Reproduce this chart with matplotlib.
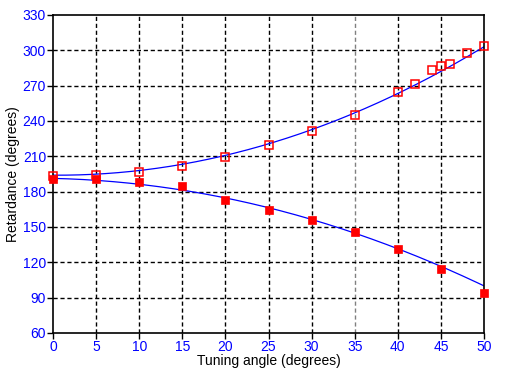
import matplotlib
matplotlib.use("Agg")
import matplotlib.pyplot as plt
import numpy as np

# Measured data
x_open = [0, 5, 10, 15, 20, 25, 30, 35, 40, 42, 44, 45, 46, 48, 50]
y_open = [193.5, 194, 197, 201.8, 209.4, 219.6, 231.5, 244.8, 264.8, 271, 283, 286.4, 288.6, 297.5, 303.4]

x_filled = [0, 5, 10, 15, 20, 25, 30, 35, 40, 45, 50]
y_filled = [191, 191, 188.5, 185, 173, 164.7, 156, 145.7, 131, 114.6, 94.2]

# Fitted curves
x_fit = [0, 5, 10, 15, 20, 25, 30, 35, 40, 45, 50]
y_fit_upper = [194, 194.9, 197.9, 203.3, 210.8, 220.6, 232.6, 246.9, 263.4, 282.1, 303]
y_fit_lower = [191.3, 189.6, 186.3, 181.3, 174.7, 166.4, 156.4, 144.8, 131.6, 116.6, 100]

x_ticks = [0, 5, 10, 15, 20, 25, 30, 35, 40, 45, 50]
y_ticks = [60, 90, 120, 150, 180, 210, 240, 270, 300, 330]

plt.rcParams['font.family'] = ['Liberation Sans', 'DejaVu Sans']

fig = plt.figure(figsize=(5.05, 3.73), dpi=100)
ax = fig.add_axes([53/505, 40/373, 431/505, 318/373])

# Grid
for xv in x_ticks[1:-1]:
    c = '0.5' if xv == 35 else 'black'
    ax.axvline(xv, color=c, linestyle=(0, (3, 2)), linewidth=1, zorder=1)
for yv in y_ticks[1:-1]:
    ax.axhline(yv, color='black', linestyle=(0, (3, 2)), linewidth=1, zorder=1)

xs = np.linspace(0, 50, 200)
cu = np.polyfit(x_fit, y_fit_upper, 2)
cl = np.polyfit(x_fit, y_fit_lower, 2)
ax.plot(xs, np.polyval(cu, xs), color='blue', linewidth=0.9, zorder=2)
ax.plot(xs, np.polyval(cl, xs), color='blue', linewidth=0.9, zorder=2)

ax.plot(x_open, y_open, linestyle='none', marker='s', markersize=6,
        markerfacecolor='none', markeredgecolor='red', markeredgewidth=1.1,
        zorder=3, clip_on=False)
ax.plot(x_filled, y_filled, linestyle='none', marker='s', markersize=5.5,
        markerfacecolor='red', markeredgecolor='red', markeredgewidth=0.5,
        zorder=3, clip_on=False)

ax.set_xlim(0, 50)
ax.set_ylim(60, 330)
ax.set_xticks(x_ticks)
ax.set_yticks(y_ticks)
ax.tick_params(direction='out', length=4, width=1, colors='black',
               labelcolor='blue', labelsize=10, pad=1)
for s in ax.spines.values():
    s.set_color('black')
    s.set_linewidth(1.2)

ax.set_xlabel('Tuning angle (degrees)', fontsize=10, labelpad=0)
ax.set_ylabel('Retardance (degrees)', fontsize=10, labelpad=2)

fig.savefig('out.png', dpi=100)
